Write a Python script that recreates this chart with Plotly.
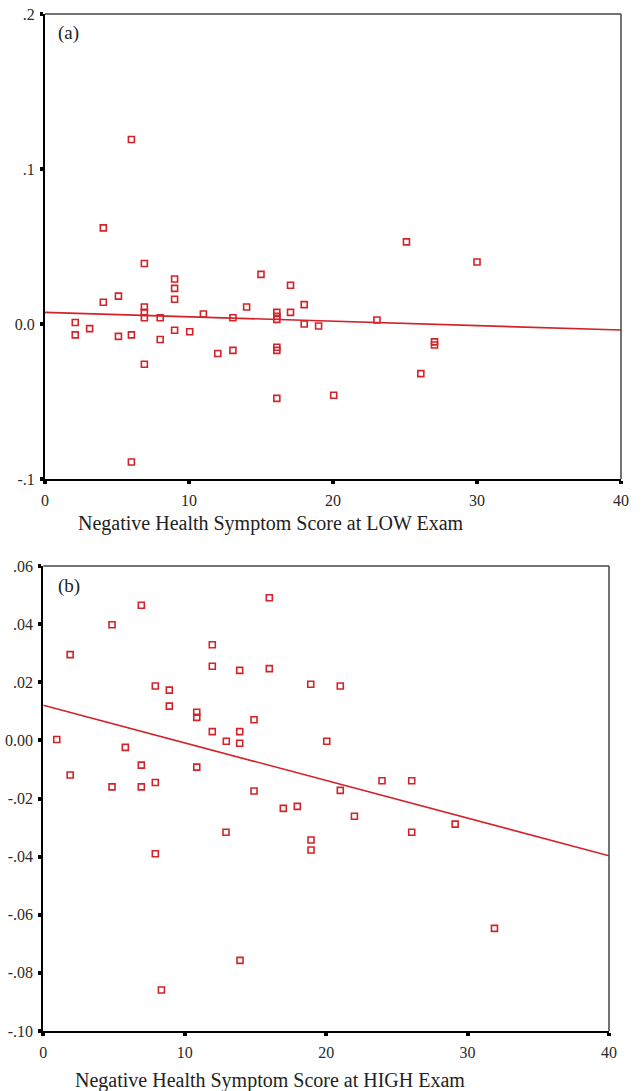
import plotly.graph_objects as go

# ---------------- data: panel (a) LOW exam ----------------
low_x = [2.1, 2.1, 3.1, 4.05, 4.05, 5.1, 5.1, 6.0, 6.0, 6.0,
         6.9, 6.9, 6.9, 6.9, 6.9, 8.0, 8.0, 9.0, 9.0, 9.0,
         9.0, 10.05, 11.0, 12.0, 13.05, 13.05, 14.0, 15.0, 16.1, 16.1,
         16.1, 16.1, 16.1, 16.1, 17.05, 17.05, 18.0, 18.0, 19.0, 20.05,
         23.05, 25.1, 26.1, 27.05, 27.05, 30.0]
low_y = [0.001, -0.007, -0.003, 0.014, 0.062, 0.018, -0.008, -0.007, -0.089, 0.119,
         0.039, 0.011, 0.0075, 0.004, -0.026, 0.004, -0.010, 0.029, 0.023, 0.016,
         -0.004, -0.005, 0.0065, -0.019, 0.004, -0.017, 0.011, 0.032, 0.0075, 0.005,
         0.003, -0.015, -0.017, -0.048, 0.025, 0.0075, 0.0125, 0.0, -0.0013, -0.046,
         0.0026, 0.053, -0.032, -0.0115, -0.0135, 0.040]
low_fit_x = [0, 40]
low_fit_y = [0.0075, -0.0039]

# ---------------- data: panel (b) HIGH exam ----------------
high_x = [0.95, 1.9, 1.9, 4.86, 4.86, 5.8, 6.93, 6.93, 6.93, 7.92,
          7.92, 7.92, 8.35, 8.91, 8.91, 10.85, 10.85, 10.85, 11.95, 11.95,
          11.95, 12.94, 12.92, 13.89, 13.89, 13.89, 13.91, 14.9, 14.9, 15.98,
          15.98, 16.97, 17.96, 18.91, 18.93, 18.93, 20.04, 21.0, 21.0, 22.0,
          23.95, 26.05, 26.05, 29.12, 31.9]
high_y = [0.0003, 0.0295, -0.0119, 0.0398, -0.016, -0.0024, 0.0465, -0.0085, -0.016, 0.0187,
          -0.0145, -0.039, -0.0859, 0.0173, 0.0118, 0.0097, 0.0079, -0.0092, 0.0329, 0.0255,
          0.003, -0.0003, -0.0316, 0.0241, 0.003, -0.001, -0.0757, 0.0071, -0.0174, 0.0491,
          0.0247, -0.0234, -0.0227, 0.0193, -0.0343, -0.0377, -0.0003, 0.0187, -0.0172, -0.0261,
          -0.0139, -0.0139, -0.0316, -0.0288, -0.0647]
high_fit_x = [0, 40]
high_fit_y = [0.0121, -0.0397]

# ---------------- tick labels ----------------
x_ticks = [0, 10, 20, 30, 40]
x_ticktext = ["0", "10", "20", "30", "40"]
low_yticks = [0.2, 0.1, 0.0, -0.1]
low_yticktext = [".2", ".1", "0.0", "-.1"]
high_yticks = [0.06, 0.04, 0.02, 0.0, -0.02, -0.04, -0.06, -0.08, -0.10]
high_yticktext = [".06", ".04", ".02", "0.00", "-.02", "-.04", "-.06", "-.08", "-.10"]

RED = "#d2232a"
FONT = "Liberation Serif"
W, H = 644, 1091

def px_x(p):
    return p / W

def px_y(p):
    return 1 - p / H

fig = go.Figure()

marker = dict(symbol="square-open", size=6, color=RED, line=dict(width=1.6, color=RED))

fig.add_trace(go.Scatter(x=low_x, y=low_y, mode="markers", marker=marker,
                         xaxis="x", yaxis="y", showlegend=False))
fig.add_trace(go.Scatter(x=low_fit_x, y=low_fit_y, mode="lines",
                         line=dict(color=RED, width=1.6), xaxis="x", yaxis="y", showlegend=False))
fig.add_trace(go.Scatter(x=high_x, y=high_y, mode="markers", marker=marker,
                         xaxis="x2", yaxis="y2", showlegend=False))
fig.add_trace(go.Scatter(x=high_fit_x, y=high_fit_y, mode="lines",
                         line=dict(color=RED, width=1.6), xaxis="x2", yaxis="y2", showlegend=False))

common_axis = dict(showgrid=False, zeroline=False, showline=True, linecolor="black", linewidth=2,
                   ticks="outside", ticklen=3, tickwidth=4, tickcolor="black", automargin=False,
                   ticklabeloverflow="allow",
                   tickfont=dict(family=FONT, size=16, color="#2a2a2a"))
xaxis_extra = dict(ticklabelstandoff=3)
yaxis_extra = dict(ticklabelstandoff=2)

fig.update_layout(
    width=W, height=H,
    margin=dict(l=0, r=0, t=0, b=0),
    paper_bgcolor="white", plot_bgcolor="white",
    xaxis=dict(domain=[px_x(45), px_x(621)], range=[0, 40], anchor="y",
               tickvals=x_ticks, ticktext=x_ticktext, **common_axis, **xaxis_extra),
    yaxis=dict(domain=[px_y(479), px_y(14)], range=[-0.1, 0.2], anchor="x",
               tickvals=low_yticks, ticktext=low_yticktext, **common_axis, **yaxis_extra),
    xaxis2=dict(domain=[px_x(43.3), px_x(609)], range=[0, 40], anchor="y2",
                tickvals=x_ticks, ticktext=x_ticktext, **common_axis, **xaxis_extra),
    yaxis2=dict(domain=[px_y(1031), px_y(566)], range=[-0.1, 0.06], anchor="x2",
                tickvals=high_yticks, ticktext=high_yticktext, **common_axis, **yaxis_extra),
)

# top/right frame lines (thin dark gray)
for xr, yr in (("x", "y"), ("x2", "y2")):
    fig.add_shape(type="line", xref=f"{xr} domain", yref=f"{yr} domain", x0=0, x1=1, y0=1, y1=1,
                  line=dict(color="#444444", width=1.5))
    fig.add_shape(type="line", xref=f"{xr} domain", yref=f"{yr} domain", x0=1, x1=1, y0=0, y1=1,
                  line=dict(color="#444444", width=1.5))

# panel letters
fig.add_annotation(text="(a)", xref="paper", yref="paper", x=px_x(56), y=px_y(33),
                   xanchor="left", yanchor="middle", showarrow=False,
                   font=dict(family=FONT, size=19, color="#222222"))
fig.add_annotation(text="(b)", xref="paper", yref="paper", x=px_x(56), y=px_y(586),
                   xanchor="left", yanchor="middle", showarrow=False,
                   font=dict(family=FONT, size=19, color="#222222"))

# axis titles
fig.add_annotation(text="Negative Health Symptom Score at LOW Exam", xref="paper", yref="paper",
                   x=px_x(271), y=px_y(523), xanchor="center", yanchor="middle", showarrow=False,
                   font=dict(family=FONT, size=20, color="#222222"))
fig.add_annotation(text="Negative Health Symptom Score at HIGH Exam", xref="paper", yref="paper",
                   x=px_x(270), y=px_y(1080), xanchor="center", yanchor="middle", showarrow=False,
                   font=dict(family=FONT, size=20, color="#222222"))

fig.write_html("out.html", config={"displayModeBar": False},
               post_script="document.body.style.margin='0';document.body.style.overflow='hidden';")
